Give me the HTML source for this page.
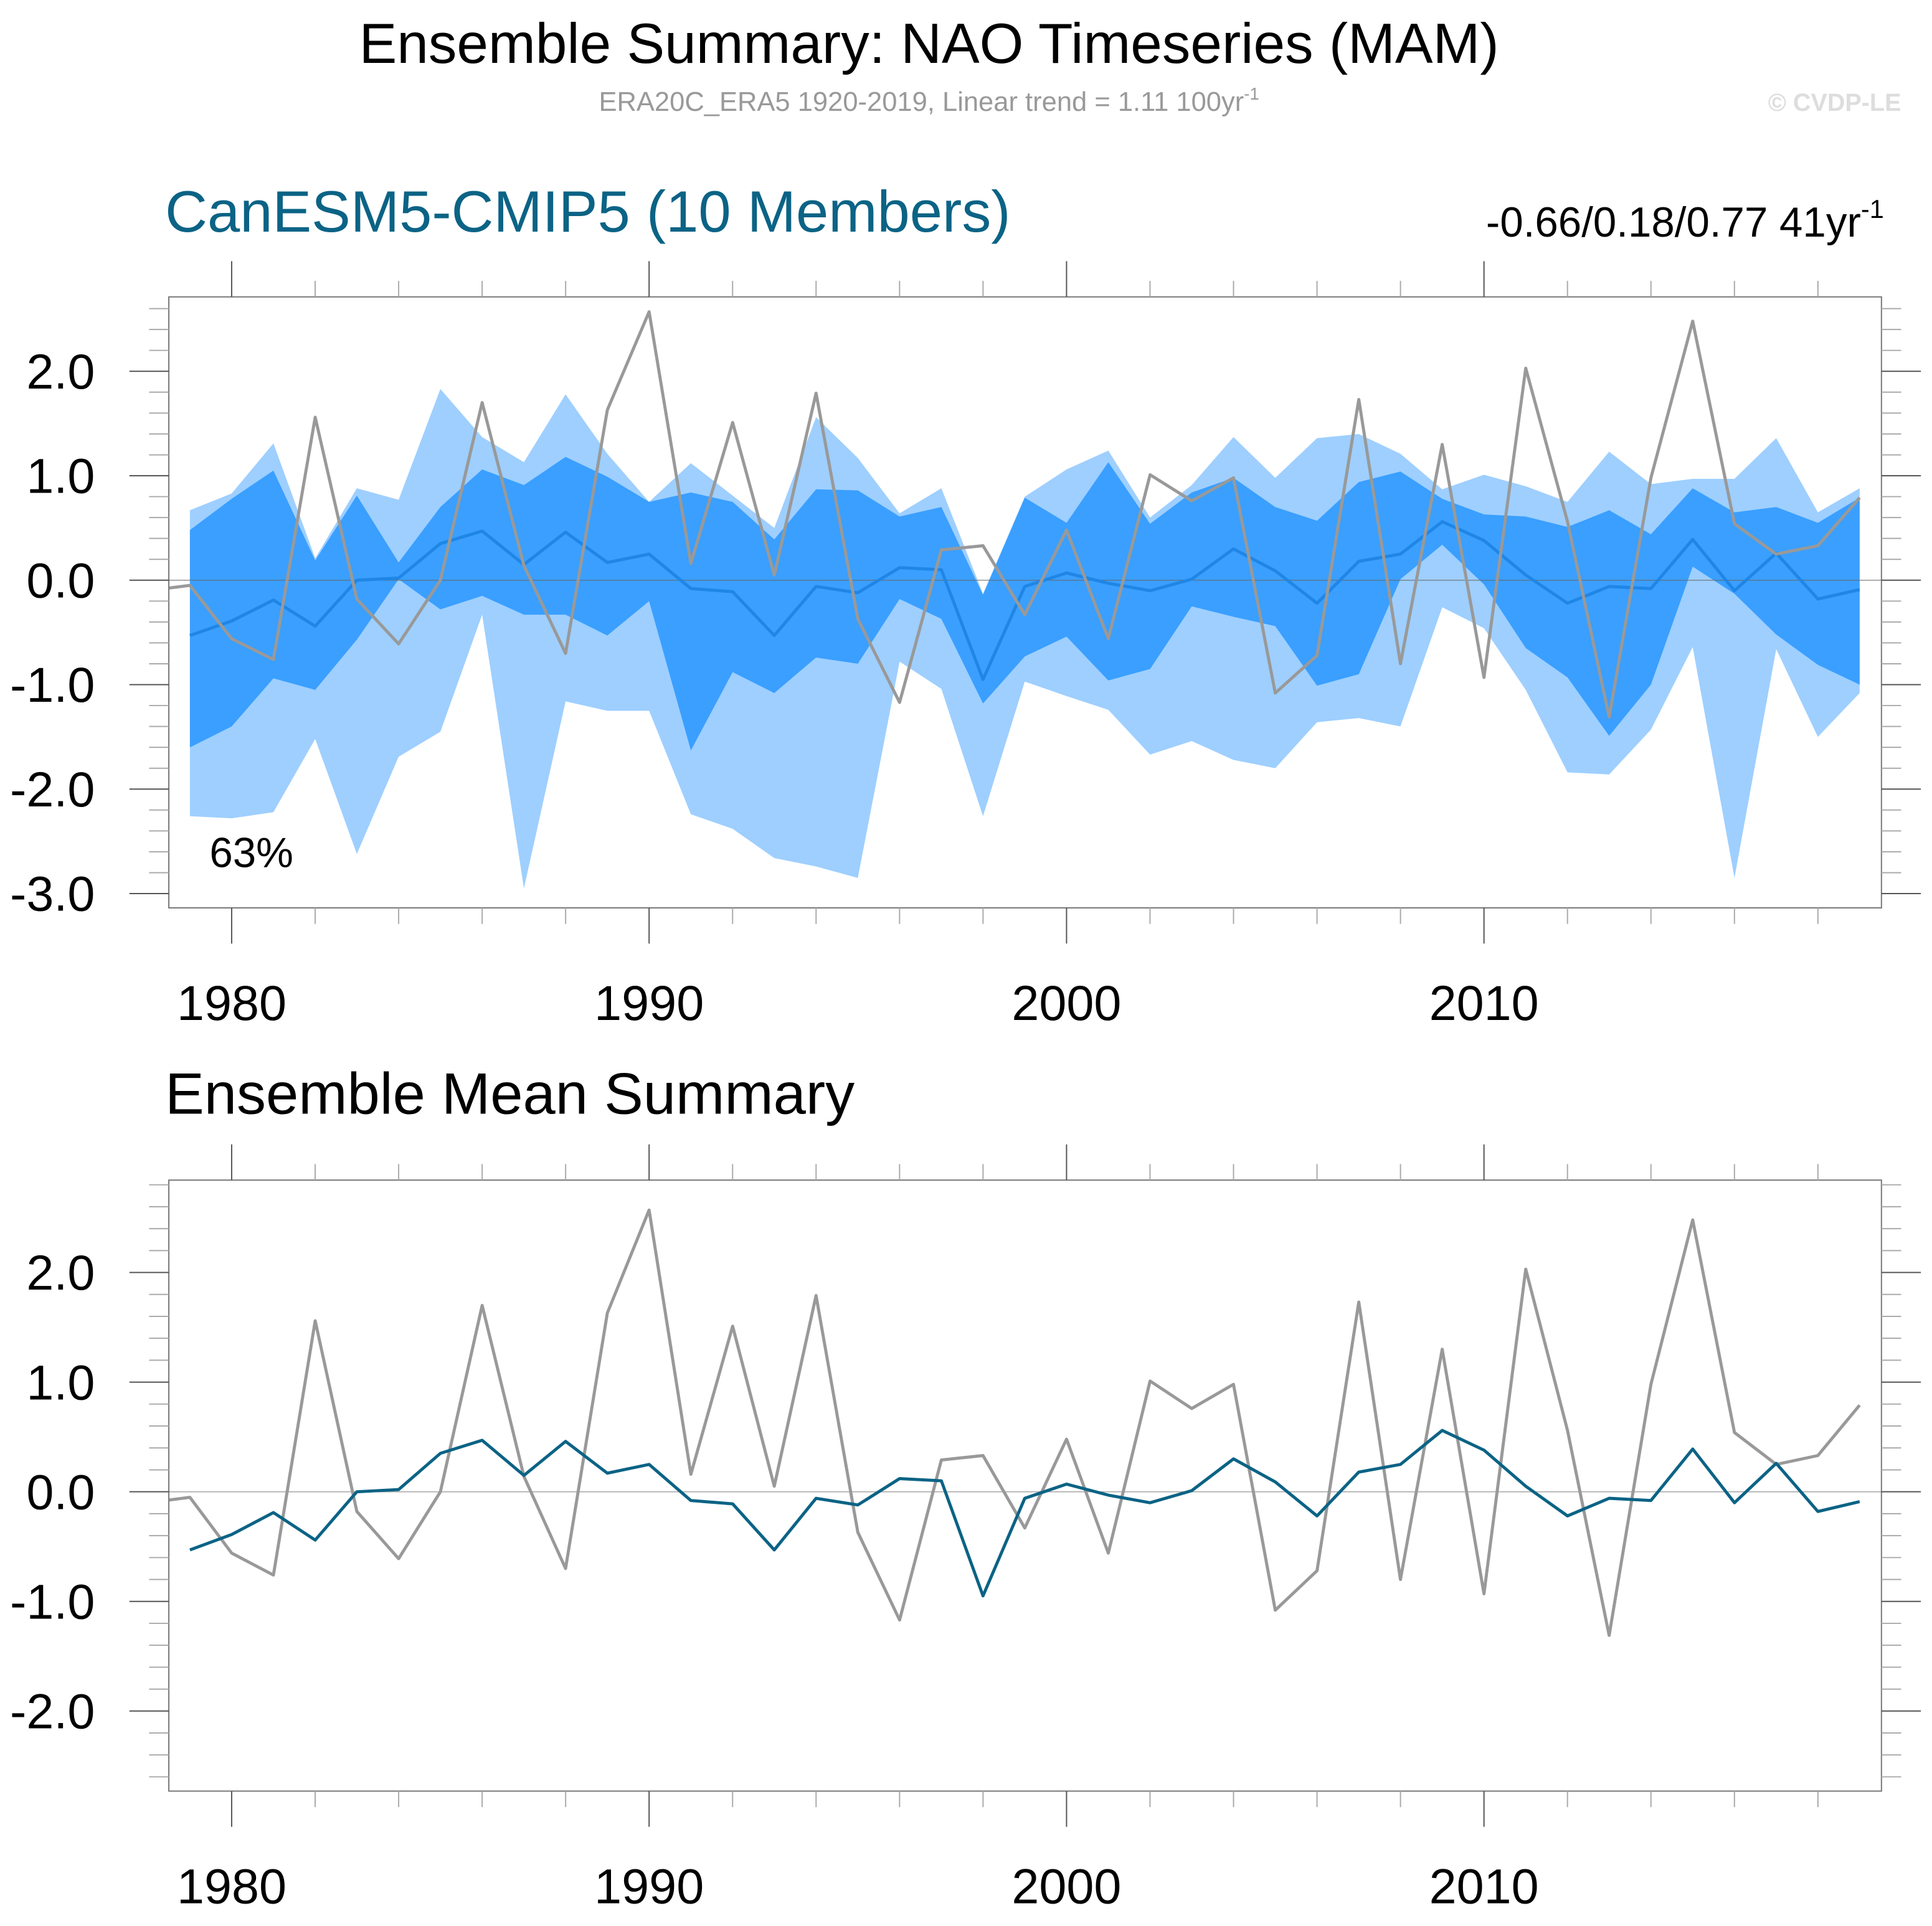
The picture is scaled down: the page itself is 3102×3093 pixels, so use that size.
<!DOCTYPE html>
<html><head><meta charset="utf-8"><style>
html,body{margin:0;padding:0;background:#fff;}
svg{display:block;font-family:"Liberation Sans",Arial,sans-serif;}
</style></head><body>
<svg id="chart" width="3102" height="3093" viewBox="0 0 1568 1563.5" xmlns="http://www.w3.org/2000/svg">
<text x="754" y="51" font-size="46" text-anchor="middle" fill="#000">Ensemble Summary: NAO Timeseries (MAM)</text>
<text x="754" y="90" font-size="22" text-anchor="middle" fill="#999">ERA20C_ERA5 1920-2019, Linear trend = 1.11 100yr<tspan dy="-9" font-size="14">-1</tspan></text>
<text x="1543" y="90" font-size="20" font-weight="bold" text-anchor="end" fill="#ddd">© CVDP-LE</text>
<text x="134" y="188" font-size="47.5" fill="#0b6385">CanESM5-CMIP5 (10 Members)</text>
<text x="1529" y="192" font-size="34" text-anchor="end" fill="#000">-0.66/0.18/0.77 41yr<tspan dy="-15" font-size="21">-1</tspan></text>
<text x="134" y="904" font-size="47.5" fill="#000">Ensemble Mean Summary</text>
<g id="p1"></g>
<g id="p2"></g>
</svg>
<script>
const obsYears = [1978,1979,1980,1981,1982,1983,1984,1985,1986,1987,1988,1989,1990,1991,1992,1993,1994,1995,1996,1997,1998,1999,2000,2001,2002,2003,2004,2005,2006,2007,2008,2009,2010,2011,2012,2013,2014,2015,2016,2017,2018,2019];
const obs = [-0.1,-0.05,-0.56,-0.76,1.56,-0.18,-0.61,0.0,1.70,0.14,-0.70,1.63,2.57,0.16,1.51,0.05,1.79,-0.37,-1.17,0.29,0.33,-0.33,0.48,-0.56,1.01,0.76,0.98,-1.08,-0.72,1.73,-0.80,1.30,-0.93,2.03,0.56,-1.31,0.98,2.48,0.54,0.25,0.33,0.79];
const years = [1979,1980,1981,1982,1983,1984,1985,1986,1987,1988,1989,1990,1991,1992,1993,1994,1995,1996,1997,1998,1999,2000,2001,2002,2003,2004,2005,2006,2007,2008,2009,2010,2011,2012,2013,2014,2015,2016,2017,2018,2019];
const ensMean = [-0.53,-0.39,-0.19,-0.44,0.0,0.02,0.35,0.47,0.15,0.46,0.17,0.25,-0.08,-0.11,-0.53,-0.06,-0.12,0.12,0.10,-0.95,-0.06,0.07,-0.03,-0.10,0.01,0.30,0.09,-0.22,0.18,0.25,0.56,0.38,0.05,-0.22,-0.06,-0.08,0.39,-0.10,0.26,-0.18,-0.09];
const darkUpper = [0.48,0.78,1.05,0.19,0.81,0.17,0.70,1.06,0.91,1.18,0.99,0.75,0.84,0.75,0.39,0.87,0.86,0.61,0.70,-0.14,0.79,0.55,1.13,0.54,0.84,0.98,0.70,0.57,0.94,1.04,0.78,0.63,0.61,0.51,0.67,0.44,0.88,0.65,0.70,0.55,0.79];
const darkLower = [-1.60,-1.40,-0.94,-1.05,-0.57,0.01,-0.28,-0.15,-0.33,-0.33,-0.53,-0.20,-1.63,-0.88,-1.08,-0.74,-0.80,-0.18,-0.37,-1.18,-0.73,-0.54,-0.96,-0.85,-0.25,-0.35,-0.44,-1.01,-0.90,0.01,0.34,-0.04,-0.65,-0.93,-1.49,-1.00,0.13,-0.13,-0.52,-0.81,-1.00];
const lightUpper = [0.67,0.83,1.31,0.21,0.88,0.77,1.83,1.37,1.13,1.78,1.21,0.75,1.12,0.81,0.50,1.56,1.17,0.64,0.88,-0.13,0.80,1.06,1.24,0.60,0.91,1.37,0.98,1.36,1.40,1.21,0.87,1.01,0.90,0.75,1.23,0.92,0.97,0.97,1.36,0.65,0.88];
const lightLower = [-2.26,-2.28,-2.22,-1.52,-2.62,-1.69,-1.45,-0.33,-2.95,-1.16,-1.25,-1.25,-2.24,-2.38,-2.66,-2.74,-2.85,-0.78,-1.04,-2.26,-0.97,-1.11,-1.24,-1.67,-1.54,-1.72,-1.80,-1.36,-1.32,-1.40,-0.26,-0.46,-1.05,-1.84,-1.86,-1.43,-0.64,-2.85,-0.66,-1.50,-1.08];
const xTickYears = [1980,1990,2000,2010];
const yTicks1 = [2.0,1.0,0.0,-1.0,-2.0,-3.0];
const yTicks2 = [2.0,1.0,0.0,-1.0,-2.0];

const NS="http://www.w3.org/2000/svg";
function mk(parent,tag,attrs){const e=document.createElementNS(NS,tag);for(const k in attrs)e.setAttribute(k,attrs[k]);parent.appendChild(e);return e;}
const L=137,R=1527;
const xs=y=>188+(y-1980)*33.88;

function panel(g,top,bot,zeroY,unit,yTicks,ymin,ymax){
  const ys=v=>zeroY-v*unit;
  const cp=mk(g,'clipPath',{id:g.id+'clip'});
  mk(cp,'rect',{x:L,y:top,width:R-L,height:bot-top});
  const inner=mk(g,'g',{'clip-path':'url(#'+g.id+'clip)'});
  return {ys,inner,finish:function(){
    const fr=mk(g,'rect',{x:L,y:top,width:R-L,height:bot-top,fill:'none',stroke:'#777','stroke-width':1});
    
    
    for(let yr=1978;yr<=2020;yr+=2){
      const x=xs(yr); if(x<L||x>R)continue;
      const major=yr%10===0;
      const t1=mk(g,'line',{x1:x,x2:x,y1:top,y2:top-(major?29:13),stroke:major?'#555':'#aaa','stroke-width':1});
      
      
      const t2=mk(g,'line',{x1:x,x2:x,y1:bot,y2:bot+(major?29:13),stroke:major?'#555':'#aaa','stroke-width':1});
      
      
    }
    xTickYears.forEach(yr=>{
      const t=mk(g,'text',{x:xs(yr),y:bot+91,'font-size':40,'text-anchor':'middle',fill:'#000'});
      t.textContent=yr;
      
      
    });
    for(let i=Math.ceil(ymin*5);i<=Math.floor(ymax*5);i++){
      const v=i/5,y=ys(v),major=i%5===0;
      const a=mk(g,'line',{x1:L,x2:L-(major?32:16),y1:y,y2:y,stroke:major?'#555':'#aaa','stroke-width':1});
      
      
      const b=mk(g,'line',{x1:R,x2:R+(major?32:16),y1:y,y2:y,stroke:major?'#555':'#aaa','stroke-width':1});
      
      
    }
    yTicks.forEach(v=>{
      const t=mk(g,'text',{x:77,y:ys(v)+14,'font-size':40,'text-anchor':'end',fill:'#000'});
      t.textContent=v.toFixed(1);
      
      
    });
  }};
}
function poly(vals,yrs,ys){return vals.map((v,i)=>xs(yrs[i]).toFixed(1)+','+ys(v).toFixed(1)).join(' ');}
function band(up,lo,ys){return poly(up,years,ys)+' '+poly(lo.slice().reverse(),years.slice().reverse(),ys);}

const g1=document.getElementById('p1');
const P1=panel(g1,241,737,471,84.8,yTicks1,-3.1,2.7);
let e;
e=mk(P1.inner,'polygon',{points:band(lightUpper,lightLower,P1.ys),fill:'#9ecfff'});


e=mk(P1.inner,'polygon',{points:band(darkUpper,darkLower,P1.ys),fill:'#3a9fff'});


e=mk(P1.inner,'line',{x1:L,x2:R,y1:P1.ys(0),y2:P1.ys(0),stroke:'#666','stroke-width':0.8,'stroke-opacity':0.7});


e=mk(P1.inner,'polyline',{points:poly(ensMean,years,P1.ys),fill:'none',stroke:'#1f86e6','stroke-width':2.5,'stroke-linejoin':'round'});


e=mk(P1.inner,'polyline',{points:poly(obs,obsYears,P1.ys),fill:'none',stroke:'#999','stroke-width':2.5,'stroke-linejoin':'round'});


P1.finish();
e=mk(g1,'text',{x:170,y:704,'font-size':34,fill:'#000'});
e.textContent='63%';



const g2=document.getElementById('p2');
const P2=panel(g2,958,1454,1211,89,yTicks2,-2.7,2.8);
e=mk(P2.inner,'line',{x1:L,x2:R,y1:P2.ys(0),y2:P2.ys(0),stroke:'#aaa','stroke-width':0.8});


e=mk(P2.inner,'polyline',{points:poly(obs,obsYears,P2.ys),fill:'none',stroke:'#999','stroke-width':2.5,'stroke-linejoin':'round'});


e=mk(P2.inner,'polyline',{points:poly(ensMean,years,P2.ys),fill:'none',stroke:'#0b6385','stroke-width':2.5,'stroke-linejoin':'round'});


P2.finish();
</script>
</body></html>
